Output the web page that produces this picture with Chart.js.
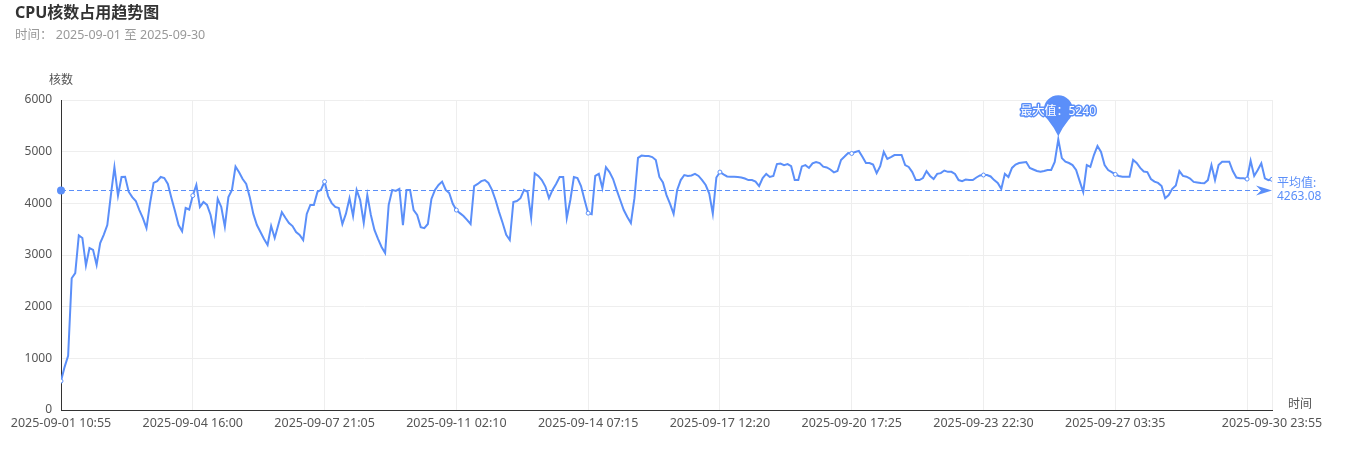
<!DOCTYPE html>
<html>
<head>
<meta charset="utf-8">
<title>CPU核数占用趋势图</title>
<script src="https://cdn.jsdelivr.net/npm/chart.js@4"></script>
<style>
  html, body { margin: 0; padding: 0; background: #fff; }
  #wrap { position: relative; width: 1352px; height: 456px; font-family: 'Noto Sans', 'Noto Sans CJK SC', sans-serif; }
  #title { position: absolute; left: 15px; top: 2px; line-height: 20px; font-size: 16px; font-weight: bold; color: #333; }
  #sub { position: absolute; left: 15px; top: 27px; line-height: 16px; font-size: 12.5px; color: #999; }
  canvas { position: absolute; left: 0; top: 0; }
</style>
</head>
<body>
<div id="wrap">
  <canvas id="myChart" width="1352" height="456"></canvas>
  <div id="title">CPU核数占用趋势图</div>
  <div id="sub">时间：&nbsp;2025-09-01 至 2025-09-30</div>
</div>
<script>
// one sample every 125 minutes (25 x 5 min)
const cores = [
  560, 830, 1050, 2550, 2650, 3380, 3330, 2800, 3135, 3100,
  2810, 3230, 3390, 3580, 4160, 4700, 4150, 4510, 4515, 4225,
  4120, 4045, 3870, 3715, 3520, 4005, 4395, 4430, 4510, 4490,
  4375, 4105, 3850, 3580, 3460, 3910, 3880, 4150, 4355, 3930,
  4025, 3970, 3775, 3430, 4085, 3930, 3550, 4120, 4260, 4710,
  4600, 4470, 4375, 4120, 3795, 3580, 3445, 3310, 3195, 3560,
  3330, 3580, 3830, 3720, 3620, 3560, 3445, 3390, 3290, 3795,
  3970, 3970, 4220, 4260, 4420, 4140, 4005, 3930, 3910, 3600,
  3800, 4100, 3755, 4260, 4065, 3620, 4160, 3775, 3485, 3310,
  3155, 3040, 3970, 4260, 4240, 4280, 3580, 4260, 4260, 3870,
  3775, 3540, 3520, 3600, 4085, 4260, 4355, 4420, 4260, 4200,
  3990, 3870, 3810, 3755, 3680, 3600, 4335, 4375, 4430, 4450,
  4395, 4260, 4065, 3830, 3620, 3390, 3290, 4025, 4045, 4100,
  4260, 4220, 3720, 4580, 4530, 4450, 4325, 4100, 4260, 4375,
  4510, 4510, 3715, 4065, 4510, 4490, 4335, 4065, 3810, 3790,
  4530, 4570, 4295, 4700, 4605, 4470, 4260, 4065, 3870, 3735,
  3620, 4100, 4880, 4925, 4915, 4915, 4895, 4840, 4510, 4405,
  4160, 3990, 3795, 4260, 4450, 4548, 4530, 4540, 4570, 4530,
  4450, 4355, 4190, 3800, 4500, 4605, 4560, 4520, 4515, 4515,
  4510, 4500, 4480, 4450, 4450, 4420, 4335, 4490, 4570, 4510,
  4530, 4760, 4770, 4740, 4760, 4720, 4450, 4450, 4715, 4740,
  4685, 4775, 4800, 4780, 4710, 4695, 4655, 4600, 4625, 4840,
  4905, 4975, 4965, 4995, 5015, 4900, 4780, 4780, 4750, 4585,
  4720, 4995, 4860, 4895, 4935, 4935, 4935, 4740, 4705, 4605,
  4450, 4450, 4490, 4625, 4530, 4470, 4570, 4585, 4635, 4610,
  4610, 4570, 4450, 4430, 4460, 4450, 4450, 4500, 4540, 4548,
  4548, 4520, 4450, 4395, 4280, 4570, 4510, 4685, 4750, 4780,
  4790, 4800, 4685, 4655, 4625, 4610, 4625, 4645, 4645, 4800,
  5240, 4875, 4805, 4780, 4740, 4645, 4430, 4220, 4740, 4705,
  4935, 5110, 4995, 4740, 4645, 4605, 4560, 4530, 4515, 4515,
  4515, 4840, 4780, 4685, 4615, 4605, 4470, 4420, 4395, 4335,
  4100, 4160, 4280, 4345, 4625, 4530, 4515, 4480, 4415, 4405,
  4395, 4390, 4450, 4740, 4450, 4740, 4805, 4805, 4805, 4625,
  4500, 4485, 4485, 4470, 4825, 4530, 4645, 4775, 4485, 4450,
  4465
];

// sample positions of the time labels (the 09-30 08:40 one is hidden by overlap)
const tickPos = [0, 37, 74, 111, 148, 185, 222, 259, 296, 333, 340];
const tickLabels = [
  '2025-09-01 10:55', '2025-09-04 16:00', '2025-09-07 21:05', '2025-09-11 02:10',
  '2025-09-14 07:15', '2025-09-17 12:20', '2025-09-20 17:25', '2025-09-23 22:30',
  '2025-09-27 03:35', '', '2025-09-30 23:55'
];
const yTicks = [0, 1000, 2000, 3000, 4000, 5000, 6000];
const avgValue = 4263.08;

const lineColor = '#5B8FF9';
const labelColor = '#555';
const fontFamily = "'Noto Sans', 'Noto Sans CJK SC', sans-serif";
Chart.defaults.font.family = fontFamily;
Chart.defaults.font.size = 12;

const markPlugin = {
  id: 'marks',
  afterDatasetsDraw(chart) {
    const { ctx } = chart;
    const x = chart.scales.x;
    const y = chart.scales.y;
    ctx.save();

    // average mark line
    const ay = Math.round(y.getPixelForValue(avgValue)) + 0.5;
    ctx.strokeStyle = lineColor;
    ctx.fillStyle = lineColor;
    ctx.lineWidth = 1;
    ctx.setLineDash([5, 3]);
    ctx.beginPath();
    ctx.moveTo(x.left, ay);
    ctx.lineTo(x.right - 8, ay);
    ctx.stroke();
    ctx.setLineDash([]);
    ctx.beginPath();
    ctx.arc(x.left, ay, 4, 0, Math.PI * 2);
    ctx.fill();
    ctx.beginPath();
    ctx.moveTo(x.right, ay);
    ctx.lineTo(x.right - 16, ay - 5);
    ctx.lineTo(x.right - 11, ay);
    ctx.lineTo(x.right - 16, ay + 5);
    ctx.closePath();
    ctx.fill();

    ctx.font = '12px ' + fontFamily;
    ctx.textAlign = 'left';
    ctx.textBaseline = 'middle';
    ctx.fillText('平均值:', x.right + 5, ay - 7);
    ctx.fillText(avgValue.toFixed(2), x.right + 5, ay + 6);

    // max mark point (pin)
    const maxV = Math.max(...cores);
    const maxI = cores.indexOf(maxV);
    const px = x.getPixelForValue(maxI);
    const py = y.getPixelForValue(maxV);
    const r = 14.5;
    const cx = px, cy = py - 29.5, tip = py - 3;
    ctx.beginPath();
    ctx.arc(cx, cy, r, Math.PI * 0.75, Math.PI * 0.25);
    ctx.quadraticCurveTo(cx + r * 0.3, cy + r * 1.2, cx, tip);
    ctx.quadraticCurveTo(cx - r * 0.3, cy + r * 1.2, cx - r * Math.SQRT1_2, cy + r * Math.SQRT1_2);
    ctx.fill();

    ctx.textAlign = 'center';
    ctx.lineWidth = 3;
    ctx.lineJoin = 'round';
    ctx.strokeText('最大值：' + maxV, cx, cy + 2);
    ctx.fillStyle = '#fff';
    ctx.fillText('最大值：' + maxV, cx, cy + 2);

    // axis names
    ctx.fillStyle = labelColor;
    ctx.textAlign = 'center';
    ctx.fillText('核数', x.left, y.top - 19);
    ctx.textAlign = 'left';
    ctx.fillText('时间', x.right + 16, y.bottom - 5);
    ctx.restore();
  }
};

new Chart(document.getElementById('myChart'), {
  type: 'line',
  data: {
    datasets: [{
      data: cores.map((v, i) => ({ x: i, y: v })),
      borderColor: lineColor,
      borderWidth: 2,
      tension: 0,
      pointRadius: (c) => (tickPos.includes(c.dataIndex) ? 2 : 0),
      pointBackgroundColor: '#fff',
      pointBorderColor: lineColor,
      pointBorderWidth: 1
    }]
  },
  options: {
    responsive: false,
    animation: false,
    events: [],
    layout: { padding: { left: 0, right: 80, top: 100, bottom: 0 } },
    plugins: { legend: { display: false }, tooltip: { enabled: false } },
    scales: {
      x: {
        type: 'linear',
        min: 0,
        max: tickPos[tickPos.length - 1],
        afterBuildTicks: (s) => { s.ticks = tickPos.map((v) => ({ value: v })); },
        afterFit: (s) => { s.height = 46; },
        ticks: {
          autoSkip: false,
          maxRotation: 0,
          padding: 6,
          color: labelColor,
          font: { size: 12.5 },
          callback: (v) => tickLabels[tickPos.indexOf(v)]
        },
        grid: { color: '#eee', drawTicks: false },
        border: { color: '#333' }
      },
      y: {
        min: 0,
        max: 6000,
        afterBuildTicks: (s) => { s.ticks = yTicks.map((v) => ({ value: v })); },
        afterFit: (s) => { s.width = 61; },
        ticks: { padding: 9, color: labelColor, callback: (v) => String(v) },
        grid: { color: '#eee', drawTicks: false },
        border: { color: '#333' }
      }
    }
  },
  plugins: [markPlugin]
});
</script>
</body>
</html>
